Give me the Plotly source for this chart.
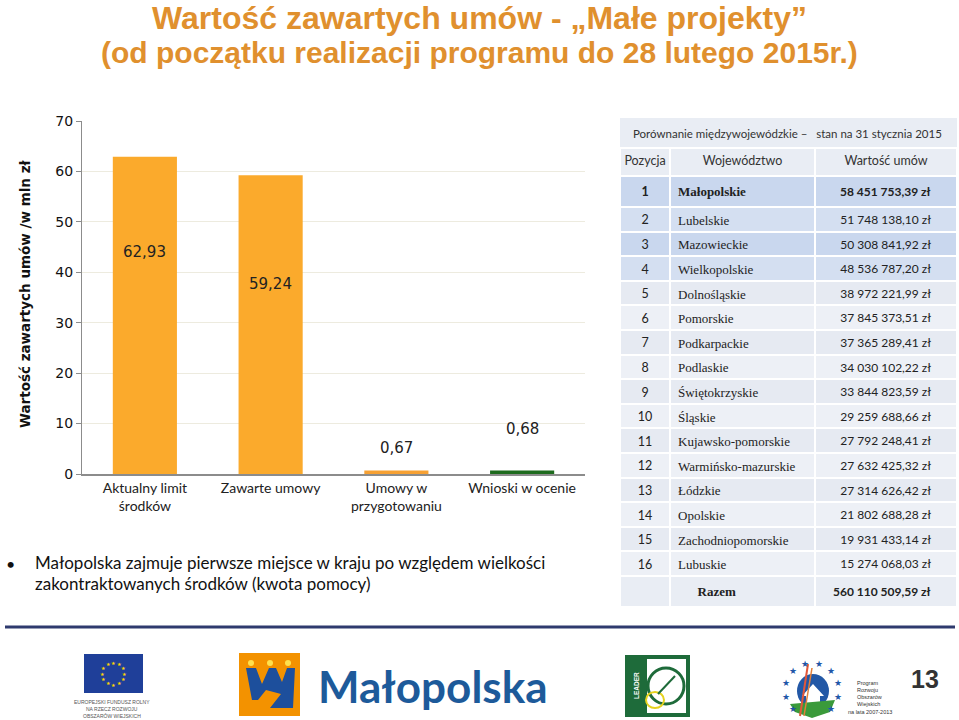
import math
import plotly.graph_objects as go

W, H = 959, 720

# ---------------- data ----------------
categories = ["Aktualny limit<br>środków", "Zawarte umowy", "Umowy w<br>przygotowaniu", "Wnioski w ocenie"]
values_mln = [62.93, 59.24, 0.67, 0.68]
bar_colors = ["#FBAA2C", "#FBAA2C", "#F7A133", "#1E6B1E"]
label_y = [44.0, 37.6, 5.2, 9.0]
y_ticks = [0, 10, 20, 30, 40, 50, 60, 70]

positions = list(range(1, 17))
regions = ["Małopolskie", "Lubelskie", "Mazowieckie", "Wielkopolskie", "Dolnośląskie",
           "Pomorskie", "Podkarpackie", "Podlaskie", "Świętokrzyskie", "Śląskie",
           "Kujawsko-pomorskie", "Warmińsko-mazurskie", "Łódzkie", "Opolskie",
           "Zachodniopomorskie", "Lubuskie"]
contract_values = [58451753.39, 51748138.10, 50308841.92, 48536787.20, 38972221.99,
                   37845373.51, 37365289.41, 34030102.22, 33844823.59, 29259688.66,
                   27792248.41, 27632425.32, 27314626.42, 21802688.28, 19931433.14,
                   15274068.03]
total_value = 560110509.59

title_lines = ["Wartość zawartych umów - „Małe projekty”",
               "(od początku realizacji programu do 28 lutego 2015r.)"]
title_sizes = [32, 30]
title_y = [18, 53]
table_title = "Porównanie międzywojewódzkie –   stan na 31 stycznia 2015"
table_headers = ["Pozycja", "Województwo", "Wartość umów"]
bullet_lines = ["Małopolska zajmuje pierwsze miejsce w kraju po względem wielkości",
                "zakontraktowanych środków (kwota pomocy)"]


def px(x):
    return x / W


def py(y):
    return 1 - y / H


def fmt_pl(v, nd=2):
    s = f"{v:,.{nd}f}"
    return s.replace(",", " ").replace(".", ",")


def fmt_money(v):
    return fmt_pl(v) + " zł"


fig = go.Figure()

# ---------------- bar chart ----------------
fig.add_trace(go.Bar(
    x=categories, y=values_mln, width=0.51,
    marker=dict(color=bar_colors, line=dict(width=0)),
    hoverinfo="skip", showlegend=False,
))
for c, v, ly in zip(categories, values_mln, label_y):
    fig.add_annotation(x=c, y=ly, xref="x", yref="y", text=fmt_pl(v), showarrow=False,
                       xanchor="center", yanchor="middle",
                       font=dict(family="DejaVu Sans", size=15, color="#222222"))

fig.update_xaxes(domain=[px(82), px(585)], showline=True, linecolor="#8C8C8C", linewidth=1.5,
                 ticks="", tickfont=dict(family="Lato", size=14, color="#222222"),
                 showgrid=False, zeroline=False, fixedrange=True)
fig.update_yaxes(domain=[py(474), py(121)], range=[0, 70], tickvals=y_ticks,
                 showline=True, linecolor="#8C8C8C", linewidth=1,
                 ticks="outside", ticklen=5, tickcolor="#8C8C8C",
                 tickfont=dict(family="DejaVu Sans", size=14, color="#111111"),
                 showgrid=True, gridcolor="#EDEBDF", gridwidth=1, zeroline=False,
                 fixedrange=True)

annotations = []
shapes = []

# y-axis title
annotations.append(dict(x=px(25), y=py(294), xref="paper", yref="paper", textangle=-90,
                        text="<b>Wartość zawartych umów /w mln zł</b>", showarrow=False,
                        font=dict(family="DejaVu Sans", size=13.5, color="#111111")))

# ---------------- table ----------------
n = len(regions)
blue_a, blue_b = "#C9D7EE", "#D4DFF1"
gray_a, gray_b = "#E6EAF2", "#EDF0F6"
row_colors = []
for i in range(n):
    if i < 4:
        row_colors.append(blue_a if i % 2 == 0 else blue_b)
    else:
        row_colors.append(gray_a if i % 2 == 0 else gray_b)
row_colors.append("#E9EDF4")

col_pos = [f"<b>{p}</b>" if i == 0 else str(p) for i, p in enumerate(positions)] + [""]
col_reg = [f"<b>{r}</b>" if i == 0 else r for i, r in enumerate(regions)] + ["\u00a0" * 6 + "<b>Razem</b>"]
col_val = [f"<b>{fmt_money(v)}</b>" if i == 0 else fmt_money(v) for i, v in enumerate(contract_values)] \
          + [f"<b>{fmt_money(total_value)}</b>"]

fig.add_trace(go.Table(
    domain=dict(x=[px(620), px(957)], y=[py(640), py(148)]),
    columnwidth=[50, 145, 142],
    header=dict(values=table_headers, fill_color="#E9EDF4",
                line=dict(color="white", width=2), align="center", height=28,
                font=dict(family="Lato", size=12.5, color="#333333")),
    cells=dict(values=[col_pos, col_reg, col_val],
               fill_color=[row_colors, row_colors, row_colors],
               line=dict(color="white", width=2),
               align=["center", "left", "right"], height=24.6,
               suffix=["", "", "\u00a0\u00a0\u00a0"],
               font=dict(family=["Lato", "Liberation Serif", "Lato"], size=[12.5, 13, 12],
                         color="#222222")),
))

# table title row
shapes.append(dict(type="rect", xref="paper", yref="paper", x0=px(620), x1=px(957),
                   y0=py(147), y1=py(118), fillcolor="#E9EDF4", line=dict(width=0)))
annotations.append(dict(x=px(787), y=py(133), xref="paper", yref="paper", text=table_title,
                        showarrow=False, font=dict(family="Lato", size=11.5, color="#333333")))

# ---------------- title ----------------
for i, t in enumerate(title_lines):
    annotations.append(dict(x=0.5, y=py(title_y[i]), xref="paper", yref="paper", text=f"<b>{t}</b>",
                            showarrow=False,
                            font=dict(family="Liberation Sans", size=title_sizes[i], color="#E0902E")))

# ---------------- bullet text ----------------
annotations.append(dict(x=px(4), y=py(563), xref="paper", yref="paper", xanchor="left", text="•",
                        showarrow=False, font=dict(family="Lato", size=16, color="#111111")))
for i, t in enumerate(bullet_lines):
    annotations.append(dict(x=px(33), y=py(562 + 21 * i), xref="paper", yref="paper", xanchor="left",
                            text=t, showarrow=False, font=dict(family="Lato", size=17, color="#111111")))

# separator line
shapes.append(dict(type="line", xref="paper", yref="paper", x0=px(5), x1=px(955), y0=py(627), y1=py(627),
                   line=dict(color="#2E3A6E", width=3)))

# ---------------- footer logos ----------------
# EU flag
shapes.append(dict(type="rect", xref="paper", yref="paper", x0=px(84), x1=px(143), y0=py(693), y1=py(654),
                   fillcolor="#1F3F99", line=dict(width=0)))
cx, cy, r = 113.5, 673.5, 11
for k in range(12):
    a = 2 * math.pi * k / 12
    annotations.append(dict(x=px(cx + r * math.cos(a)), y=py(cy + r * math.sin(a)), xref="paper", yref="paper",
                            text="★", showarrow=False, font=dict(family="DejaVu Sans", size=5, color="#FFD800")))
for i, t in enumerate(["EUROPEJSKI FUNDUSZ ROLNY", "NA RZECZ ROZWOJU", "OBSZARÓW WIEJSKICH"]):
    annotations.append(dict(x=px(112), y=py(702 + 7 * i), xref="paper", yref="paper", text=t, showarrow=False,
                            font=dict(family="Liberation Sans", size=5, color="#555555")))

# Małopolska emblem
shapes.append(dict(type="rect", xref="paper", yref="paper", x0=px(239), x1=px(300), y0=py(716), y1=py(653),
                   fillcolor="#F39200", line=dict(width=0)))


def path_px(pts):
    return "M " + " L ".join(f"{px(a):.5f},{py(b):.5f}" for a, b in pts) + " Z"


shapes.append(dict(type="path", xref="paper", yref="paper",
                   path=path_px([(246, 668), (256, 668), (262, 684), (269, 668), (276, 668), (282, 682),
                                 (287, 668), (295, 668), (293, 708), (270, 708), (281, 694), (266, 690),
                                 (258, 700), (252, 700)]),
                   fillcolor="#1D4F9C", line=dict(width=0)))
for dx in (251, 270, 288):
    shapes.append(dict(type="circle", xref="paper", yref="paper", x0=px(dx - 3), x1=px(dx + 3),
                       y0=py(666), y1=py(660), fillcolor="#FFE14D", line=dict(width=0)))
annotations.append(dict(x=px(316), y=py(686), xref="paper", yref="paper", xanchor="left",
                        text="<b>Małopolska</b>", showarrow=False,
                        font=dict(family="Lato", size=44, color="#1D5A9A")))

# LEADER logo
shapes.append(dict(type="rect", xref="paper", yref="paper", x0=px(625), x1=px(690), y0=py(717), y1=py(655),
                   fillcolor="#1E6B3A", line=dict(width=0)))
shapes.append(dict(type="rect", xref="paper", yref="paper", x0=px(647), x1=px(686), y0=py(713), y1=py(659),
                   fillcolor="#FFFFFF", line=dict(width=0)))
shapes.append(dict(type="circle", xref="paper", yref="paper", x0=px(648), x1=px(684), y0=py(704), y1=py(668),
                   fillcolor="rgba(0,0,0,0)", line=dict(color="#1E6B3A", width=3)))
shapes.append(dict(type="circle", xref="paper", yref="paper", x0=px(646), x1=px(664), y0=py(708), y1=py(692),
                   fillcolor="rgba(0,0,0,0)", line=dict(color="#E6D21E", width=2)))
shapes.append(dict(type="line", xref="paper", yref="paper", x0=px(658), x1=px(675), y0=py(694), y1=py(676),
                   line=dict(color="#1E6B3A", width=2)))
annotations.append(dict(x=px(636), y=py(686), xref="paper", yref="paper", textangle=-90, text="<b>LEADER</b>",
                        showarrow=False, font=dict(family="Liberation Sans", size=6.5, color="#FFFFFF")))

# PROW logo
pcx, pcy, pr = 812, 690, 27
for k in range(10):
    a = math.pi * (0.75 + 1.5 * k / 9)
    annotations.append(dict(x=px(pcx - pr * math.cos(a)), y=py(pcy + pr * math.sin(a)),
                            xref="paper", yref="paper", text="★", showarrow=False,
                            font=dict(family="DejaVu Sans", size=9, color="#1F56A8")))
shapes.append(dict(type="circle", xref="paper", yref="paper", x0=px(797), x1=px(829), y0=py(708), y1=py(674),
                   fillcolor="#2358A6", line=dict(width=0)))
shapes.append(dict(type="path", xref="paper", yref="paper",
                   path=path_px([(802, 696), (813, 684), (824, 696), (820, 696), (820, 704), (806, 704), (806, 696)]),
                   fillcolor="#FFFFFF", line=dict(width=0)))
shapes.append(dict(type="path", xref="paper", yref="paper",
                   path=path_px([(790, 704), (835, 700), (830, 712), (812, 718), (795, 712)]),
                   fillcolor="#3A9A3A", line=dict(width=0)))
shapes.append(dict(type="line", xref="paper", yref="paper", x0=px(800), x1=px(808), y0=py(716), y1=py(664),
                   line=dict(color="#E2573A", width=2)))
shapes.append(dict(type="line", xref="paper", yref="paper", x0=px(804), x1=px(812), y0=py(716), y1=py(668),
                   line=dict(color="#E2803A", width=1.5)))
for i, t in enumerate(["Program", "Rozwoju", "Obszarów", "Wiejskich"]):
    annotations.append(dict(x=px(855), y=py(683 + 7 * i), xref="paper", yref="paper", xanchor="left", text=t,
                            showarrow=False, font=dict(family="Liberation Sans", size=5.5, color="#333333")))
annotations.append(dict(x=px(846), y=py(712), xref="paper", yref="paper", xanchor="left", text="na lata 2007-2013",
                        showarrow=False, font=dict(family="Liberation Sans", size=5.5, color="#333333")))

# page number
annotations.append(dict(x=px(925), y=py(679), xref="paper", yref="paper", text="<b>13</b>", showarrow=False,
                        font=dict(family="Liberation Sans", size=25, color="#333333")))

for a in annotations:
    a.setdefault("xanchor", "center")
    a.setdefault("yanchor", "middle")
    fig.add_annotation(**a)

fig.update_layout(
    width=W, height=H, margin=dict(l=0, r=0, t=0, b=0, autoexpand=False),
    paper_bgcolor="white", plot_bgcolor="white",
    shapes=shapes, showlegend=False, bargap=0.49,
)

fig.write_html("out.html", config={"displayModeBar": False},
               post_script="document.body.style.margin='0px';document.body.style.overflow='hidden';")
